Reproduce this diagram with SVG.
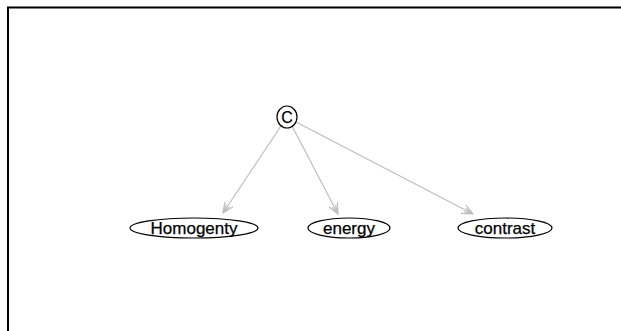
<svg xmlns="http://www.w3.org/2000/svg" width="621" height="331" viewBox="0 0 621 331">
<style>
.node ellipse, .node circle { fill: #fff; stroke: #000; stroke-width: 1.2; }
.node text { font-family: "Liberation Sans", Arial, sans-serif; font-size: 17px; fill: #000; text-anchor: middle; stroke: #000; stroke-width: 0.25; }
.edge { stroke: #bdbdbd; stroke-width: 1.2; fill: none; marker-end: url(#arr); }
</style>
<defs>
<marker id="arr" viewBox="0 0 12 10" refX="11" refY="5" markerWidth="12" markerHeight="10" markerUnits="userSpaceOnUse" orient="auto">
<path d="M0,0 L11,5 L0,10 M2,3 L11,5 L2,7" fill="none" stroke="#bdbdbd" stroke-width="1.1"/>
</marker>
</defs>
<rect width="621" height="331" fill="#fff"/>
<path d="M8,331 V7.5 H621" fill="none" stroke="#000" stroke-width="2"/>
<g id="edges">
<line class="edge" x1="281" y1="126" x2="223" y2="213"/>
<line class="edge" x1="292" y1="126" x2="338" y2="214"/>
<line class="edge" x1="296" y1="122" x2="473" y2="214"/>
</g>
<g id="node-C" class="node">
<ellipse cx="287" cy="117" rx="10" ry="11"/>
<text x="287" y="123" style="font-size:16px">C</text>
</g>
<g id="node-Homogenty" class="node">
<ellipse cx="194" cy="228" rx="64" ry="10"/>
<text x="194" y="233.5">Homogenty</text>
</g>
<g id="node-energy" class="node">
<ellipse cx="349" cy="228" rx="41" ry="10"/>
<text x="349" y="233.5">energy</text>
</g>
<g id="node-contrast" class="node">
<ellipse cx="505" cy="228" rx="47" ry="10"/>
<text x="505" y="233.5">contrast</text>
</g>
</svg>
